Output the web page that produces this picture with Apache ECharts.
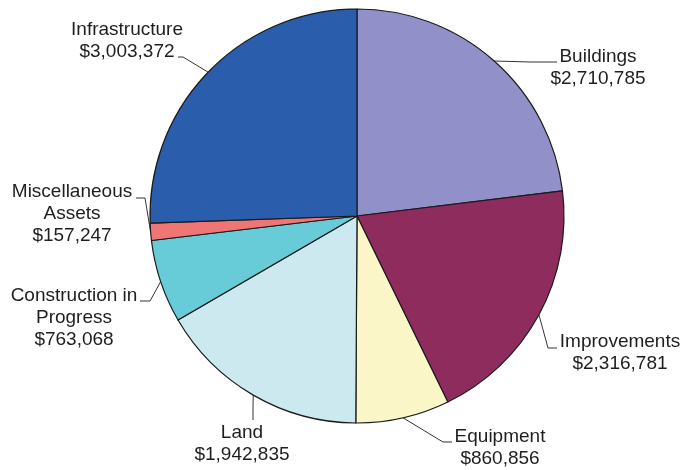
<!DOCTYPE html>
<html>
<head>
<meta charset="utf-8">
<style>
  html, body { margin: 0; padding: 0; background: #fff; }
  #chart { width: 683px; height: 470px; }
</style>
<script src="https://cdn.jsdelivr.net/npm/echarts@6/dist/echarts.min.js"></script>
</head>
<body>
<div id="chart"></div>
<script>
// Capital asset categories, listed clockwise from 12 o'clock
const categories = [
  'Buildings',
  'Improvements',
  'Equipment',
  'Land',
  'Construction in\nProgress',
  'Miscellaneous\nAssets',
  'Infrastructure'
];
const values = [2710785, 2316781, 860856, 1942835, 763068, 157247, 3003372];
const colors = ['#9290C8', '#8E2C5E', '#FAF6C8', '#CDE9F0', '#68CCD8', '#F07676', '#2A5EAC'];

// Label block placement (top-centre of each text block) and leader-line bends
const labelSpots = [
  { x: 598, y: 46, bend: [530, 62], end: [557, 62] },
  { x: 620, y: 331, bend: [548, 348], end: [557, 348] },
  { x: 500, y: 426, bend: [443, 442], end: [452, 442] },
  { x: 242, y: 422, bend: [253, 408], end: [253, 420] },
  { x: 74, y: 285, bend: [150, 301], end: [140, 301] },
  { x: 72, y: 181, bend: [145, 198], end: [136, 198] },
  { x: 127, y: 19, bend: [183, 57], end: [178, 57] }
];

function money(v) {
  return '$' + v.toLocaleString('en-US');
}

const chart = echarts.init(document.getElementById('chart'), null, { renderer: 'canvas' });

chart.setOption({
  animation: false,
  series: [{
    type: 'pie',
    center: [357, 216],
    radius: [0, 207],
    startAngle: 90,
    clockwise: true,
    avoidLabelOverlap: false,
    data: categories.map((name, i) => ({
      name: name,
      value: values[i],
      itemStyle: { color: colors[i] }
    })),
    itemStyle: { borderColor: '#1a1a1a', borderWidth: 1.2 },
    emphasis: { disabled: true },
    label: {
      show: true,
      position: 'outside',
      formatter: p => p.name + '\n' + money(p.value),
      fontFamily: 'Arial, "Liberation Sans", sans-serif',
      fontSize: 19,
      lineHeight: 22,
      color: '#1e1e1e',
      align: 'center'
    },
    labelLine: {
      show: true,
      length: 15,
      length2: 10,
      lineStyle: { color: '#333', width: 1 }
    },
    labelLayout: function (params) {
      const s = labelSpots[params.dataIndex];
      const edge = params.labelLinePoints ? params.labelLinePoints[0] : s.bend;
      return {
        x: s.x,
        y: s.y,
        align: 'center',
        verticalAlign: 'top',
        labelLinePoints: [edge, s.bend, s.end]
      };
    }
  }]
});
</script>
</body>
</html>
